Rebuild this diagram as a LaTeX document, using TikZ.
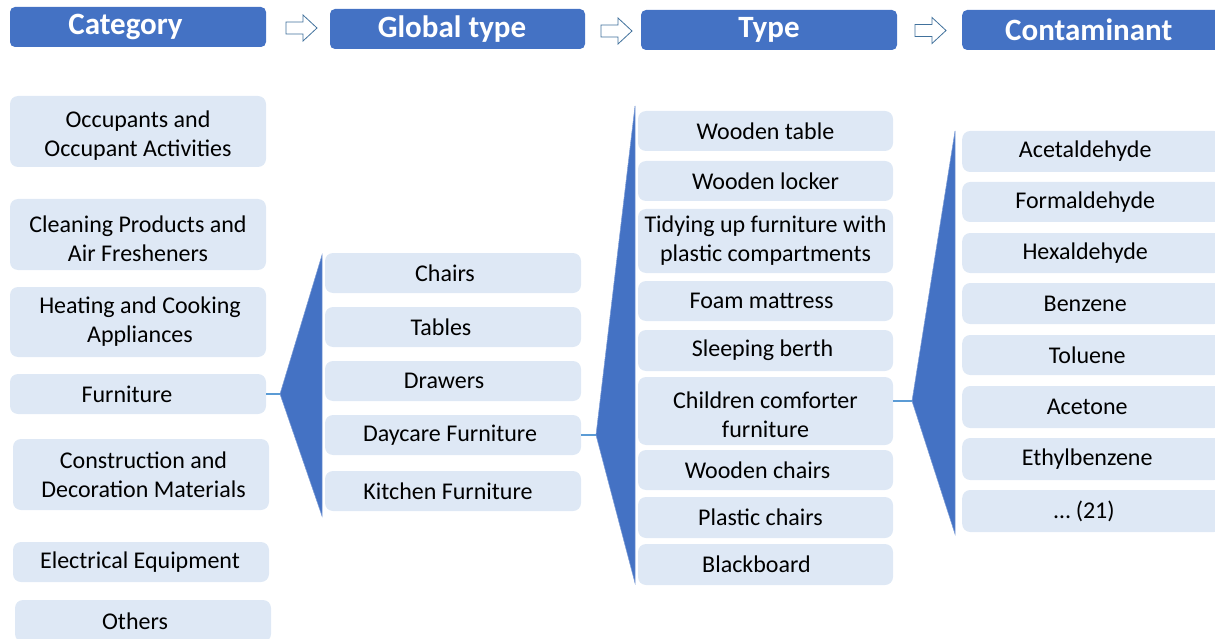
\documentclass[tikz,border=0pt]{standalone}
\usepackage{fontspec}
\setmainfont{Carlito}
\definecolor{hdr}{HTML}{4472C4}
\definecolor{lbox}{HTML}{DEE8F5}
\definecolor{conn}{HTML}{5B9BD5}
\definecolor{arrline}{HTML}{41719C}
\newcommand\upl{\rule{0pt}{25pt}}
\tikzset{
  hdrbox/.style={fill=hdr, rounded corners=5pt, text=white, font=\fontsize{31}{34}\selectfont\bfseries, inner sep=0pt},
  cbox/.style={fill=lbox, rounded corners=8pt, text=black, font=\fontsize{24}{29}\selectfont, align=center, inner sep=0pt},
  hollowarrow/.style={draw=arrline, fill=white, line width=0.8pt, line join=miter},
  wedge/.style={fill=hdr, draw=hdr!70!white, line width=0.5pt},
  linkline/.style={draw=conn, line width=2.5pt}
}
\begin{document}
\begin{tikzpicture}[x=1pt,y=-1pt]
\useasboundingbox (0,0) rectangle (1215,639);
% headers
\node[hdrbox, minimum width=256pt, minimum height=40pt] (h1) at (138,27) {\hspace*{-25pt}Category};
\node[hdrbox, minimum width=255pt, minimum height=40pt] (h2) at (457.5,29) {\hspace*{-11pt}Global type};
\node[hdrbox, minimum width=256pt, minimum height=40pt] (h3) at (769,30) {Type};
\node[hdrbox, minimum width=260pt, minimum height=40pt, anchor=west] (h4) at (962,30) {\hspace*{-7pt}Contaminant};
% hollow arrows
\coordinate (a1) at (286,28);
\coordinate (a2) at (601,31);
\coordinate (a3) at (915,30.5);
\foreach \a in {a1,a2,a3}{
  \draw[hollowarrow] (\a) ++(0,-6) -- ++(17,0) -- ++(0,-7) -- ++(14,13) -- ++(-14,13) -- ++(0,-7) -- ++(-17,0) -- cycle;
}
% Category column
\node[cbox, minimum width=256pt, minimum height=71pt] (occ) at (138,131.5) {\upl Occupants and\\Occupant Activities};
\node[cbox, minimum width=256pt, minimum height=71pt] (cle) at (138,234.5) {\upl Cleaning Products and\\Air Fresheners};
\node[cbox, minimum width=256pt, minimum height=70pt] (hea) at (138,322) {\hspace*{4pt}Heating and Cooking\\\hspace*{4pt}Appliances};
\node[cbox, minimum width=256pt, minimum height=40pt] (fur) at (138,394) {\hspace*{-22pt}Furniture};
\node[cbox, minimum width=256pt, minimum height=71pt] (con) at (141,474.5) {\hspace*{5pt}Construction and\\\hspace*{5pt}Decoration Materials};
\node[cbox, minimum width=256pt, minimum height=40pt] (ele) at (141,562) {\hspace*{-2pt}Electrical Equipment};
\node[cbox, minimum width=256pt, minimum height=42pt] (oth) at (143,621) {\hspace*{-16pt}Others};
% Global type column
\node[cbox, minimum width=256pt, minimum height=40pt] (chairs) at (453,273) {\hspace*{-16pt}Chairs};
\node[cbox, minimum width=256pt, minimum height=40pt] (tables) at (453,327) {\hspace*{-24pt}Tables};
\node[cbox, minimum width=256pt, minimum height=40pt] (drawers) at (453,381) {\hspace*{-18pt}Drawers};
\node[cbox, minimum width=256pt, minimum height=40pt] (daycare) at (453,435) {\hspace*{-6pt}Daycare Furniture};
\node[cbox, minimum width=256pt, minimum height=40pt] (kitchen) at (453,491) {\hspace*{-10pt}Kitchen Furniture};
% Type column
\node[cbox, minimum width=255pt, minimum height=40pt] (t1) at (765.5,131) {Wooden table};
\node[cbox, minimum width=255pt, minimum height=40pt] (t2) at (765.5,181) {Wooden locker};
\node[cbox, minimum width=255pt, minimum height=64pt] (t3) at (765.5,241) {Tidying up furniture with\\plastic compartments};
\node[cbox, minimum width=255pt, minimum height=40pt] (t4) at (765.5,301) {\hspace*{-8pt}Foam mattress};
\node[cbox, minimum width=255pt, minimum height=41pt] (t5) at (765.5,350.5) {\hspace*{-6pt}Sleeping berth};
\node[cbox, minimum width=255pt, minimum height=68pt] (t6) at (765.5,411) {\upl Children comforter\\furniture};
\node[cbox, minimum width=255pt, minimum height=40pt] (t7) at (765.5,470) {\hspace*{-16pt}Wooden chairs};
\node[cbox, minimum width=255pt, minimum height=41pt] (t8) at (765.5,517.5) {\hspace*{-10pt}Plastic chairs};
\node[cbox, minimum width=255pt, minimum height=41pt] (t9) at (765.5,564.5) {\hspace*{-18pt}Blackboard};
% Contaminant column
\node[cbox, minimum width=260pt, minimum height=41pt, anchor=west] (c1) at (962,151.5) {\hspace*{-14pt}Acetaldehyde};
\node[cbox, minimum width=260pt, minimum height=40pt, anchor=west] (c2) at (962,202) {\hspace*{-14pt}Formaldehyde};
\node[cbox, minimum width=260pt, minimum height=40pt, anchor=west] (c3) at (962,253) {\hspace*{-14pt}Hexaldehyde};
\node[cbox, minimum width=260pt, minimum height=41pt, anchor=west] (c4) at (962,303.5) {\hspace*{-14pt}Benzene};
\node[cbox, minimum width=260pt, minimum height=40pt, anchor=west] (c5) at (962,355) {\hspace*{-10pt}Toluene};
\node[cbox, minimum width=260pt, minimum height=42pt, anchor=west] (c6) at (962,407) {\hspace*{-10pt}Acetone};
\node[cbox, minimum width=260pt, minimum height=42pt, anchor=west] (c7) at (962,459) {\hspace*{-10pt}Ethylbenzene};
\node[cbox, minimum width=260pt, minimum height=42pt, anchor=west] (c8) at (962,511) {\hspace*{-16pt}\dots\ (21)};
% wedges
\coordinate (w1) at (280,394);
\coordinate (w2) at (596,435);
\coordinate (w3) at (912,401);
\path[wedge] (w1) -- (322,255) -- (322,516) -- cycle;
\path[wedge] (w2) -- (635,106) -- (635,583) -- cycle;
\path[wedge] (w3) -- (955,131) -- (955,534) -- cycle;
\draw[linkline] (fur.east |- w1) -- (w1);
\draw[linkline] (daycare.east |- w2) -- (w2);
\draw[linkline] (t6.east |- w3) -- (w3);
\end{tikzpicture}
\end{document}
